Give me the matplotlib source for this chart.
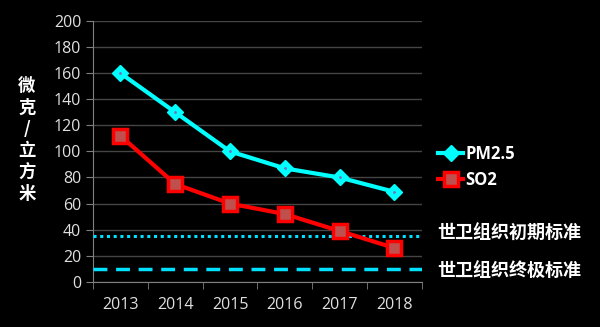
import numpy as np
import matplotlib.pyplot as plt

plt.rcParams['font.family'] = ['Open Sans', 'Noto Sans CJK SC', 'DejaVu Sans']

years = ['2013', '2014', '2015', '2016', '2017', '2018']
pm25 = [160, 130, 100, 87, 80, 69]
so2 = [112, 75, 60, 52, 39, 26]
who_initial = 35
who_final = 10

fig = plt.figure(figsize=(6, 3.27), dpi=100, facecolor='black')
ax = fig.add_axes([0.155, 0.138, 0.548, 0.798], facecolor='black')

x = np.arange(len(years))
ax.plot(x, pm25, color='#00ffff', lw=3, marker='D', ms=8, mfc='#00ffff',
        mec='#00ffff', label='PM2.5', zorder=4)
ax.plot(x, pm25, ls='none', marker='.', ms=2, color='#7070c0', zorder=5)
ax.plot(x, so2, color='#ff0000', lw=3, marker='s', ms=10, mfc='#c0504d',
        mec='#ff0000', mew=2.5, label='SO2', zorder=4)

ax.axhline(who_initial, color='#00e0ff', lw=2.2, ls=(0, (1, 1.2)), zorder=3)
ax.axhline(who_final, color='#00e0ff', lw=2.5, ls=(0, (4, 2.5)), zorder=3)

ax.set_xlim(-0.5, 5.5)
ax.set_ylim(0, 200)
ax.set_yticks(np.arange(0, 201, 20))
ax.set_xticks(x)
ax.set_xticklabels(years)
ax.set_xticks(np.arange(-0.5, 5.6, 1), minor=True)
ax.tick_params(axis='x', which='major', length=0, pad=11, colors='#e0e0e0', labelsize=11.5)
ax.tick_params(axis='x', which='minor', length=5, color='#808080', direction='out')
ax.tick_params(axis='y', length=5, color='#808080', colors='#e0e0e0', labelsize=11.5)
ax.grid(axis='y', color='#454545', lw=1)
ax.set_axisbelow(True)
for s in ['top', 'right']:
    ax.spines[s].set_visible(False)
for s in ['left', 'bottom']:
    ax.spines[s].set_color('#808080')

fig.text(0.045, 0.572, '微\n克\n/\n立\n方\n米', color='white', fontsize=12.5,
         fontweight='bold', ha='center', va='center', linespacing=1.25,
         family=['Noto Sans CJK SC'])

leg = ax.legend(loc='center left', bbox_to_anchor=(1.005, 0.44), frameon=False,
                fontsize=12, handlelength=1.5, handletextpad=0.1, labelspacing=0.5)
for t in leg.get_texts():
    t.set_color('white')
    t.set_fontweight('bold')

fig.text(0.728, 0.287, '世卫组织初期标准', color='white', fontsize=13,
         fontweight='bold', va='center', family=['Noto Sans CJK SC'])
fig.text(0.728, 0.173, '世卫组织终极标准', color='white', fontsize=13,
         fontweight='bold', va='center', family=['Noto Sans CJK SC'])

fig.savefig('out.png', dpi=100, facecolor='black')
